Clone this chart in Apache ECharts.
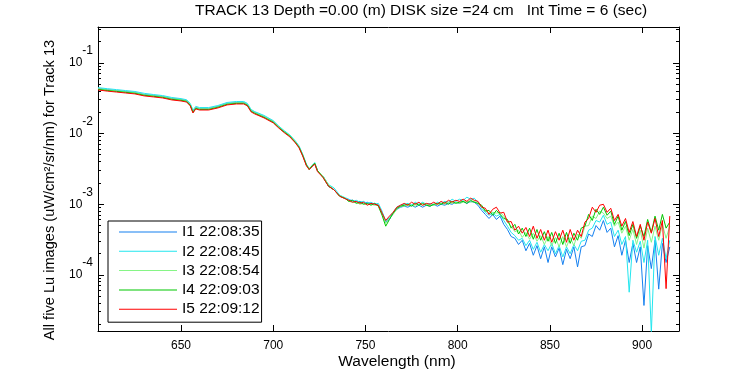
<!DOCTYPE html>
<html>
<head>
<meta charset="utf-8">
<title>TRACK 13 Lu spectra</title>
<script src="https://cdn.jsdelivr.net/npm/echarts@6/dist/echarts.min.js"></script>
<style>
  html, body { margin: 0; padding: 0; background: #fff; }
  #chart { width: 750px; height: 375px; }
</style>
</head>
<body>
<div id="chart"></div>
<script>
// wavelength (nm)
var wavelength = [
  605, 610, 615, 620, 625, 630, 635, 640, 645, 650,
  653, 655, 656.5, 658, 660, 665, 670, 675, 680, 684,
  686, 688, 690, 695, 700, 703, 706, 709, 712, 714,
  716, 718, 719.5, 721, 722.5, 724, 727, 730, 733, 736, 739,
  741, 743, 745, 747, 749, 751, 753, 755, 757, 759,
  761, 763, 765, 767, 769, 771, 773, 775, 777, 779,
  781, 783, 785, 787, 789, 791, 793, 795, 797, 799,
  801, 803, 805, 807, 809, 811, 813, 815, 817, 819,
  821, 823, 825, 827, 829, 831, 833, 835, 837, 839,
  841, 843, 845, 847, 849, 851, 853, 855, 857, 859,
  861, 863, 865, 867, 869, 871, 873, 875, 877, 879,
  881, 883, 885, 887, 889, 891, 893, 895, 897, 899,
  901, 903, 905, 907, 909, 911, 913, 915
];

// I1 22:08:35
var lu1 = [
  0.0436, 0.0420, 0.0407, 0.0395, 0.0383, 0.0359, 0.0348, 0.0336, 0.0315, 0.0305,
  0.0294, 0.0259, 0.0206, 0.0235, 0.0227, 0.0227, 0.0243, 0.0268, 0.0276, 0.0276,
  0.0259, 0.0213, 0.0200, 0.0175, 0.0149, 0.0126, 0.0108, 0.0094, 0.0077, 0.0066,
  0.0050, 0.0036, 0.0032, 0.0034, 0.0038, 0.0030, 0.0025, 0.0018, 0.0016, 0.00132, 0.00121,
  1.14e-3, 1.14e-3, 1.07e-3, 1.10e-3, 1.03e-3, 1.07e-3, 1.00e-3, 1.03e-3, 9.7e-4, 7.7e-4,
  5.6e-4, 6.1e-4, 7.5e-4, 8.5e-4, 9.1e-4, 9.4e-4, 9.1e-4, 9.7e-4, 9.1e-4, 9.7e-4,
  9.1e-4, 9.7e-4, 9.4e-4, 1.00e-3, 9.4e-4, 1.00e-3, 9.7e-4, 1.03e-3, 1.00e-3, 1.07e-3,
  1.03e-3, 1.10e-3, 1.03e-3, 1.10e-3, 1.07e-3, 9.7e-4, 8.2e-4, 7.2e-4, 6.3e-4, 7.2e-4,
  6.1e-4, 6.8e-4, 5.2e-4, 4.4e-4, 3.5e-4, 3.3e-4, 2.7e-4, 3.1e-4, 2.2e-4, 2.8e-4,
  1.9e-4, 2.6e-4, 1.7e-4, 2.5e-4, 1.5e-4, 2.5e-4, 1.8e-4, 2.4e-4, 1.4e-4, 2.3e-4,
  1.7e-4, 2.5e-4, 1.3e-4, 2.5e-4, 2.6e-4, 3.8e-4, 3.5e-4, 5.0e-4, 4.3e-4, 5.9e-4,
  4.0e-4, 4.6e-4, 2.5e-4, 3.6e-4, 1.9e-4, 3.1e-4, 1.5e-4, 2.8e-4, 1.5e-4, 2.5e-4,
  3.7e-5, 2.6e-4, 1.23e-4, 3.1e-4, 6.3e-5, 2.8e-4, 1.5e-4, 2.5e-4
];

// I2 22:08:45
var lu2 = [
  0.0448, 0.0433, 0.0420, 0.0407, 0.0395, 0.0372, 0.0358, 0.0346, 0.0325, 0.0313,
  0.0302, 0.0268, 0.0215, 0.0243, 0.0234, 0.0234, 0.0250, 0.0276, 0.0285, 0.0285,
  0.0268, 0.0220, 0.0205, 0.0181, 0.0153, 0.0128, 0.0110, 0.0096, 0.0079, 0.0067,
  0.0051, 0.0037, 0.0032, 0.0035, 0.0039, 0.0030, 0.0025, 0.0019, 0.0017, 0.00135, 0.00124,
  1.18e-3, 1.10e-3, 1.14e-3, 1.07e-3, 1.10e-3, 1.03e-3, 1.07e-3, 1.00e-3, 1.03e-3, 8.0e-4,
  5.7e-4, 6.5e-4, 7.7e-4, 9.1e-4, 9.7e-4, 1.00e-3, 1.03e-3, 9.7e-4, 1.07e-3, 1.00e-3,
  1.07e-3, 1.00e-3, 1.03e-3, 9.7e-4, 1.07e-3, 1.03e-3, 1.10e-3, 1.07e-3, 1.18e-3, 1.10e-3,
  1.18e-3, 1.14e-3, 1.26e-3, 1.18e-3, 1.22e-3, 1.07e-3, 8.8e-4, 7.7e-4, 7.0e-4, 7.5e-4,
  6.8e-4, 7.2e-4, 5.9e-4, 4.9e-4, 4.0e-4, 3.6e-4, 3.1e-4, 3.3e-4, 2.6e-4, 3.1e-4,
  2.3e-4, 2.9e-4, 2.1e-4, 2.7e-4, 2.2e-4, 2.8e-4, 2.0e-4, 2.6e-4, 1.8e-4, 2.5e-4,
  2.0e-4, 2.7e-4, 2.2e-4, 3.0e-4, 3.1e-4, 4.3e-4, 4.6e-4, 5.9e-4, 5.6e-4, 7.0e-4,
  5.2e-4, 5.6e-4, 3.5e-4, 4.3e-4, 2.7e-4, 3.5e-4, 5.7e-5, 3.1e-4, 2.1e-4, 3.0e-4,
  1.5e-4, 3.1e-4, 1.5e-5, 3.5e-4, 1.9e-4, 3.3e-4, 1.7e-4, 3.1e-4
];

// I3 22:08:54
var lu3 = [
  0.0432, 0.0416, 0.0404, 0.0391, 0.0380, 0.0356, 0.0344, 0.0333, 0.0312, 0.0302,
  0.0291, 0.0257, 0.0204, 0.0233, 0.0225, 0.0225, 0.0240, 0.0265, 0.0274, 0.0274,
  0.0257, 0.0211, 0.0198, 0.0174, 0.0148, 0.0125, 0.0107, 0.0094, 0.0077, 0.0065,
  0.0050, 0.0036, 0.0032, 0.0035, 0.0038, 0.0030, 0.0025, 0.0019, 0.0016, 0.00133, 0.00122,
  1.10e-3, 1.07e-3, 1.07e-3, 1.00e-3, 1.03e-3, 1.00e-3, 1.00e-3, 9.7e-4, 9.7e-4, 7.5e-4,
  5.4e-4, 6.3e-4, 7.2e-4, 8.5e-4, 9.4e-4, 9.4e-4, 9.7e-4, 9.7e-4, 9.4e-4, 1.00e-3,
  9.7e-4, 1.00e-3, 9.7e-4, 9.7e-4, 1.00e-3, 1.03e-3, 1.00e-3, 1.07e-3, 1.03e-3, 1.07e-3,
  1.03e-3, 1.07e-3, 1.10e-3, 1.07e-3, 1.10e-3, 1.03e-3, 9.1e-4, 8.2e-4, 7.5e-4, 7.7e-4,
  7.5e-4, 7.7e-4, 6.8e-4, 5.6e-4, 4.9e-4, 4.1e-4, 4.3e-4, 3.4e-4, 4.0e-4, 3.2e-4,
  3.9e-4, 3.0e-4, 3.6e-4, 2.7e-4, 3.5e-4, 2.6e-4, 3.4e-4, 2.5e-4, 3.5e-4, 2.5e-4,
  3.4e-4, 2.6e-4, 3.8e-4, 3.3e-4, 4.9e-4, 5.0e-4, 6.8e-4, 6.3e-4, 8.0e-4, 7.5e-4,
  6.3e-4, 6.8e-4, 4.9e-4, 5.6e-4, 3.9e-4, 4.9e-4, 3.1e-4, 4.4e-4, 2.7e-4, 4.3e-4,
  2.4e-4, 4.6e-4, 2.9e-4, 4.9e-4, 3.1e-4, 5.2e-4, 3.3e-4, 4.9e-4
];

// I4 22:09:03
var lu4 = [
  0.0423, 0.0408, 0.0396, 0.0384, 0.0372, 0.0349, 0.0338, 0.0326, 0.0306, 0.0296,
  0.0286, 0.0252, 0.0200, 0.0228, 0.0220, 0.0220, 0.0236, 0.0260, 0.0268, 0.0268,
  0.0252, 0.0207, 0.0194, 0.0170, 0.0145, 0.0122, 0.0105, 0.0092, 0.0075, 0.0064,
  0.0049, 0.0036, 0.0031, 0.0035, 0.0038, 0.0030, 0.0024, 0.0018, 0.0016, 0.00130, 0.00121,
  1.10e-3, 1.14e-3, 1.03e-3, 1.07e-3, 1.00e-3, 1.03e-3, 9.7e-4, 1.03e-3, 9.4e-4, 7.0e-4,
  4.9e-4, 6.1e-4, 7.5e-4, 8.8e-4, 9.4e-4, 9.7e-4, 1.00e-3, 9.4e-4, 1.03e-3, 9.7e-4,
  1.03e-3, 9.7e-4, 9.4e-4, 1.00e-3, 1.03e-3, 1.00e-3, 1.07e-3, 1.00e-3, 1.10e-3, 1.03e-3,
  1.07e-3, 1.10e-3, 1.03e-3, 1.14e-3, 1.07e-3, 1.03e-3, 9.7e-4, 8.0e-4, 8.2e-4, 7.0e-4,
  8.2e-4, 7.2e-4, 6.3e-4, 6.1e-4, 4.6e-4, 5.2e-4, 3.8e-4, 4.6e-4, 3.5e-4, 4.6e-4,
  3.2e-4, 4.4e-4, 3.1e-4, 4.1e-4, 3.0e-4, 4.0e-4, 2.8e-4, 3.9e-4, 2.7e-4, 4.0e-4,
  2.8e-4, 3.9e-4, 3.1e-4, 4.6e-4, 4.9e-4, 7.2e-4, 5.9e-4, 8.5e-4, 7.2e-4, 9.1e-4,
  7.0e-4, 8.0e-4, 5.2e-4, 6.8e-4, 4.3e-4, 5.7e-4, 3.6e-4, 5.2e-4, 3.3e-4, 4.9e-4,
  3.5e-4, 6.1e-4, 4.0e-4, 6.8e-4, 4.3e-4, 7.2e-4, 4.6e-4, 5.6e-4
];

// I5 22:09:12
var lu5 = [
  0.0415, 0.0400, 0.0388, 0.0376, 0.0365, 0.0342, 0.0331, 0.0320, 0.0300, 0.0290,
  0.0280, 0.0247, 0.0196, 0.0224, 0.0216, 0.0216, 0.0231, 0.0255, 0.0263, 0.0263,
  0.0247, 0.0203, 0.0190, 0.0167, 0.0142, 0.0120, 0.0103, 0.0090, 0.0074, 0.0063,
  0.0048, 0.0035, 0.0031, 0.0034, 0.0037, 0.0029, 0.0024, 0.0018, 0.0016, 0.0013, 0.0012,
  1.14e-3, 1.07e-3, 1.10e-3, 1.03e-3, 1.07e-3, 9.7e-4, 1.03e-3, 1.00e-3, 9.7e-4, 7.5e-4,
  5.9e-4, 6.8e-4, 7.7e-4, 9.1e-4, 9.7e-4, 1.03e-3, 9.7e-4, 1.07e-3, 1.00e-3, 1.07e-3,
  9.7e-4, 1.03e-3, 1.00e-3, 1.07e-3, 1.00e-3, 1.10e-3, 1.03e-3, 1.14e-3, 1.07e-3, 1.14e-3,
  1.10e-3, 1.18e-3, 1.10e-3, 1.22e-3, 1.14e-3, 1.10e-3, 9.1e-4, 8.8e-4, 7.2e-4, 8.5e-4,
  9.1e-4, 7.5e-4, 7.7e-4, 5.6e-4, 5.7e-4, 4.3e-4, 4.9e-4, 3.9e-4, 4.7e-4, 3.5e-4,
  4.9e-4, 3.3e-4, 4.4e-4, 3.1e-4, 4.3e-4, 2.9e-4, 4.1e-4, 3.1e-4, 4.3e-4, 2.9e-4,
  4.4e-4, 3.1e-4, 4.3e-4, 3.5e-4, 5.6e-4, 6.3e-4, 9.1e-4, 7.7e-4, 9.7e-4, 1.00e-3,
  7.7e-4, 8.8e-4, 5.9e-4, 7.2e-4, 4.9e-4, 6.3e-4, 4.0e-4, 5.7e-4, 3.5e-4, 5.2e-4,
  3.1e-4, 5.6e-4, 3.9e-4, 6.3e-4, 3.5e-4, 5.9e-4, 6.4e-5, 6.8e-4
];

var seriesNames = ['I1 22:08:35', 'I2 22:08:45', 'I3 22:08:54', 'I4 22:09:03', 'I5 22:09:12'];
var seriesColors = ['#1480f0', '#22e6ee', '#86f586', '#00c800', '#ff0000'];
var allSeries = [lu1, lu2, lu3, lu4, lu5];

// log-axis minor tick positions (2..9 x 10^n)
var minorTickValues = [
  2e-5, 3e-5, 4e-5, 5e-5, 6e-5, 7e-5, 8e-5, 9e-5,
  2e-4, 3e-4, 4e-4, 5e-4, 6e-4, 7e-4, 8e-4, 9e-4,
  2e-3, 3e-3, 4e-3, 5e-3, 6e-3, 7e-3, 8e-3, 9e-3,
  2e-2, 3e-2, 4e-2, 5e-2, 6e-2, 7e-2, 8e-2, 9e-2,
  2e-1, 3e-1
];

var xMin = 605, xMax = 920;
var yMin = 1.61e-5, yMax = 0.323;
var font = "'Liberation Sans', Arial, sans-serif";

var chart = echarts.init(document.getElementById('chart'));

var series = [];
for (var i = 0; i < allSeries.length; i++) {
  var pts = [];
  for (var j = 0; j < wavelength.length; j++) {
    pts.push([wavelength[j], allSeries[i][j]]);
  }
  series.push({
    name: seriesNames[i],
    type: 'line',
    data: pts,
    color: seriesColors[i],
    showSymbol: false,
    symbol: 'none',
    lineStyle: { width: 1, color: seriesColors[i] },
    clip: true,
    silent: true
  });
}

// minor ticks on left and right frame
series.push({
  type: 'custom',
  silent: true,
  clip: false,
  z: 10,
  data: minorTickValues.map(function (v) { return [xMin, v]; }),
  renderItem: function (params, api) {
    var v = api.value(1);
    var l = api.coord([xMin, v]);
    var r = api.coord([xMax, v]);
    var y = Math.round(l[1] - 0.5) + 0.5;
    return {
      type: 'group',
      children: [
        { type: 'line', shape: { x1: l[0], y1: y, x2: l[0] + 3, y2: y }, style: { stroke: '#000', lineWidth: 1 } },
        { type: 'line', shape: { x1: r[0] - 3, y1: y, x2: r[0], y2: y }, style: { stroke: '#000', lineWidth: 1 } }
      ]
    };
  }
});

var frameAxis = {
  axisLine: { show: true, lineStyle: { color: '#000', width: 1 } },
  axisTick: { show: true, inside: true, length: 6, lineStyle: { color: '#000', width: 1 } },
  splitLine: { show: false }
};

var option = {
  animation: false,
  backgroundColor: '#fff',
  title: {
    text: 'TRACK 13 Depth =0.00 (m) DISK size =24 cm   Int Time = 6 (sec)',
    left: 195,
    top: 3,
    padding: 0,
    textStyle: { fontSize: 15.5, fontWeight: 'normal', color: '#000', fontFamily: font }
  },
  grid: { left: 98, right: 71, top: 27, bottom: 44 },
  legend: {
    data: seriesNames,
    orient: 'vertical',
    left: 108,
    top: 221,
    icon: 'rect',
    itemWidth: 58,
    itemHeight: 1,
    itemGap: 3.3,
    padding: [3, 2, 5, 11],
    borderColor: '#000',
    borderWidth: 1,
    backgroundColor: '#fff',
    selectedMode: false,
    textStyle: { fontSize: 15.5, lineHeight: 16, color: '#000', fontFamily: font }
  },
  xAxis: [
    Object.assign({}, frameAxis, {
      type: 'value', position: 'bottom', min: xMin, max: xMax,
      axisLabel: { color: '#000', fontSize: 12, fontFamily: font, margin: 9, showMinLabel: false, showMaxLabel: false }
    }),
    Object.assign({}, frameAxis, {
      type: 'value', position: 'top', min: xMin, max: xMax,
      axisLabel: { show: false }
    })
  ],
  yAxis: [
    Object.assign({}, frameAxis, {
      type: 'log', logBase: 10, position: 'left', min: yMin, max: yMax,
      axisLabel: {
        margin: 5,
        showMinLabel: false,
        showMaxLabel: false,
        formatter: function (v) {
          return '{b|10}{s|' + Math.round(Math.log10(v)) + '}';
        },
        rich: {
          b: { fontSize: 12, color: '#000', fontFamily: font },
          s: { fontSize: 12, color: '#000', fontFamily: font, padding: [0, 0, 24, 0] }
        }
      }
    }),
    Object.assign({}, frameAxis, {
      type: 'log', logBase: 10, position: 'right', min: yMin, max: yMax,
      axisLabel: { show: false }
    })
  ],
  graphic: [
    {
      type: 'text', x: 50, y: 190, rotation: Math.PI / 2,
      style: {
        text: 'All five Lu images (uW/cm²/sr/nm) for Track 13',
        fontSize: 14.6, fontFamily: font, fill: '#000', align: 'center', verticalAlign: 'middle'
      }
    },
    {
      type: 'text', x: 397, y: 362,
      style: {
        text: 'Wavelength (nm)',
        fontSize: 15.5, fontFamily: font, fill: '#000', align: 'center', verticalAlign: 'middle'
      }
    }
  ],
  series: series
};

chart.setOption(option);
</script>
</body>
</html>
